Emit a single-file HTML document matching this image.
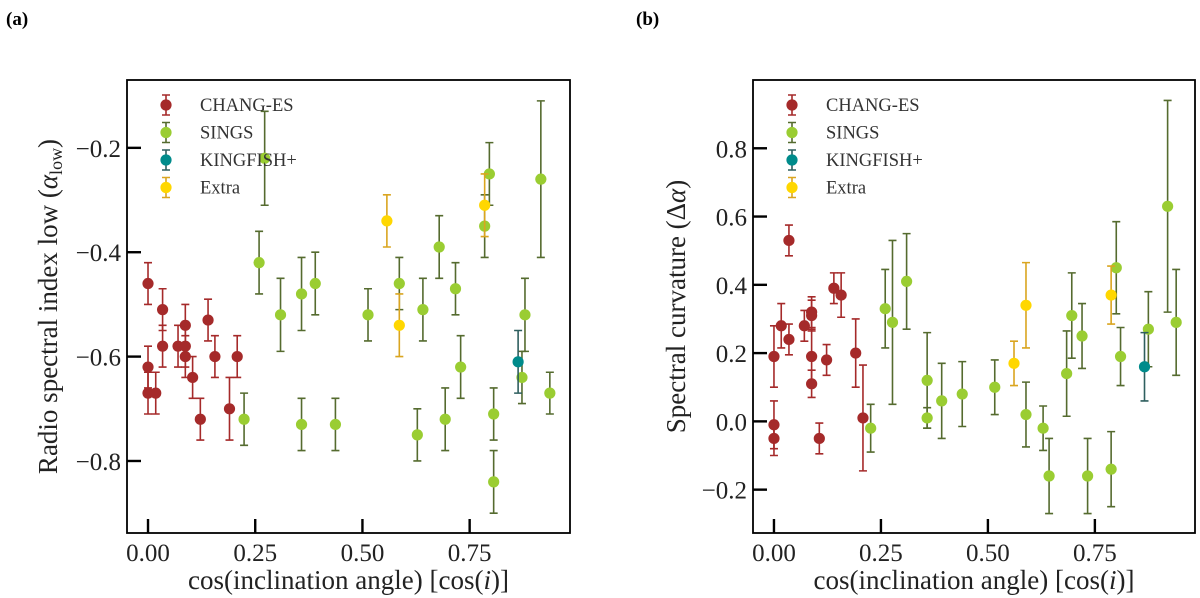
<!DOCTYPE html>
<html><head><meta charset="utf-8"><style>
html,body{margin:0;padding:0;background:#fff;}
svg{display:block;font-family:"Liberation Serif",serif;}
</style></head><body>
<svg id="fig" width="1200" height="598" viewBox="0 0 1200 598"></svg>
<script>
// Panel (a) data: cos(i), alpha_low, error
const changA_x=[0,0,0,0.018,0.034,0.034,0.07,0.087,0.087,0.087,0.104,0.122,0.14,0.156,0.19,0.208];
const changA_y=[-0.46,-0.62,-0.67,-0.67,-0.51,-0.58,-0.58,-0.54,-0.58,-0.60,-0.64,-0.72,-0.53,-0.60,-0.70,-0.60];
const changA_e=[0.04,0.04,0.04,0.04,0.04,0.04,0.04,0.04,0.04,0.04,0.04,0.04,0.04,0.04,0.06,0.04];
const singsA_x=[0.224,0.259,0.272,0.309,0.358,0.358,0.39,0.437,0.513,0.586,0.628,0.641,0.679,0.693,0.717,0.729,0.785,0.796,0.806,0.806,0.872,0.879,0.916,0.937];
const singsA_y=[-0.72,-0.42,-0.22,-0.52,-0.48,-0.73,-0.46,-0.73,-0.52,-0.46,-0.75,-0.51,-0.39,-0.72,-0.47,-0.62,-0.35,-0.25,-0.71,-0.84,-0.64,-0.52,-0.26,-0.67];
const singsA_e=[0.05,0.06,0.09,0.07,0.07,0.05,0.06,0.05,0.05,0.05,0.05,0.06,0.06,0.06,0.05,0.06,0.06,0.06,0.05,0.06,0.05,0.07,0.15,0.04];
const kingA_x=[0.863], kingA_y=[-0.61], kingA_e=[0.06];
const extraA_x=[0.557,0.586,0.785], extraA_y=[-0.34,-0.54,-0.31], extraA_e=[0.05,0.06,0.06];
// Panel (b) data: cos(i), delta alpha, error
const changB_x=[0,0,0,0.017,0.035,0.035,0.071,0.088,0.088,0.088,0.088,0.106,0.123,0.14,0.157,0.191,0.208];
const changB_y=[0.19,-0.01,-0.05,0.28,0.53,0.24,0.28,0.32,0.31,0.19,0.11,-0.05,0.18,0.39,0.37,0.20,0.01];
const changB_e=[0.09,0.07,0.05,0.065,0.045,0.045,0.045,0.045,0.045,0.08,0.04,0.045,0.045,0.045,0.065,0.10,0.155];
const singsB_x=[0.226,0.26,0.277,0.31,0.358,0.358,0.392,0.44,0.516,0.589,0.629,0.643,0.684,0.696,0.72,0.733,0.788,0.8,0.81,0.875,0.92,0.94];
const singsB_y=[-0.02,0.33,0.29,0.41,0.12,0.01,0.06,0.08,0.10,0.02,-0.02,-0.16,0.14,0.31,0.25,-0.16,-0.14,0.45,0.19,0.27,0.63,0.29];
const singsB_e=[0.07,0.115,0.24,0.14,0.14,0.03,0.11,0.095,0.08,0.095,0.065,0.11,0.125,0.125,0.095,0.11,0.11,0.135,0.085,0.11,0.31,0.155];
const kingB_x=[0.866], kingB_y=[0.16], kingB_e=[0.10];
const extraB_x=[0.561,0.589,0.788], extraB_y=[0.17,0.34,0.37], extraB_e=[0.065,0.125,0.085];
const xTicks=[0,0.25,0.5,0.75];
const xTickLabels=["0.00","0.25","0.50","0.75"];
const yTicksA=[-0.2,-0.4,-0.6,-0.8];
const yTickLabelsA=["\u22120.2","\u22120.4","\u22120.6","\u22120.8"];
const yTicksB=[0.8,0.6,0.4,0.2,0,-0.2];
const yTickLabelsB=["0.8","0.6","0.4","0.2","0.0","\u22120.2"];
const legendNames=["CHANG-ES","SINGS","KINGFISH+","Extra"];

const NS="http://www.w3.org/2000/svg";
const svg=document.getElementById('fig');
function mk(tag,attrs,parent){const e=document.createElementNS(NS,tag);for(const k in attrs)e.setAttribute(k,attrs[k]);(parent||svg).appendChild(e);return e;}
const styles=[{m:"#a52a2a",e:"#a52a2a"},{m:"#9acd32",e:"#556b2f"},{m:"#008b8b",e:"#2f5f5f"},{m:"#ffd700",e:"#daa520"}];

function panel(cfg){
  const g=mk('g',{});
  
  
  const L=cfg.left,R=cfg.right,T=80,B=533;
  const sx=v=>L+(v-(-0.049))/(0.984+0.049)*(R-L);
  const sy=v=>T+(cfg.ymax-v)/(cfg.ymax-cfg.ymin)*(B-T);
  cfg.series.forEach((s,si)=>{
    const sg=mk('g',{},g);
    
    
    s.x.forEach((xv,i)=>{
      const cx=sx(xv),cy=sy(s.y[i]),y1=sy(s.y[i]+s.e[i]),y2=sy(s.y[i]-s.e[i]);
      const eb=mk('path',{d:`M${cx},${y1}V${y2}M${cx-4},${y1}H${cx+4}M${cx-4},${y2}H${cx+4}`,stroke:styles[si].e,'stroke-width':1.6,fill:'none'},sg);
      
      
      const c=mk('circle',{cx:cx,cy:cy,r:5.6,fill:styles[si].m},sg);
      
      
    });
  });
  const fr=mk('rect',{x:L,y:T,width:R-L,height:B-T,fill:'none',stroke:'#000','stroke-width':1.8},g);
  
  
  xTicks.forEach((t,i)=>{
    const x=sx(t);
    const tk=mk('line',{x1:x,y1:B,x2:x,y2:B-14,stroke:'#000','stroke-width':2.4},g);
    
    
    const tl=mk('text',{x:x,y:561,'text-anchor':'middle','font-size':25,fill:'#222'},g);
    tl.textContent=xTickLabels[i];
    
    
  });
  cfg.yTicks.forEach((t,i)=>{
    const y=sy(t);
    const tk=mk('line',{x1:L,y1:y,x2:L+14,y2:y,stroke:'#000','stroke-width':2.4},g);
    
    
    const tl=mk('text',{x:L-6,y:y+9,'text-anchor':'end','font-size':25,fill:'#222'},g);
    tl.textContent=cfg.yLabels[i];
    
    
  });
  const xt=mk('text',{x:(L+R)/2,y:589,'text-anchor':'middle','font-size':27,fill:'#222'},g);
  xt.innerHTML='cos(inclination angle) [cos(<tspan font-style="italic">i</tspan>)]';
  
  
  const yt=mk('text',{x:0,y:0,'text-anchor':'middle','font-size':27,fill:'#222',transform:`translate(${cfg.ytx},${(T+B)/2}) rotate(-90)`},g);
  yt.innerHTML=cfg.ytitle;
  
  
  const lg=mk('g',{},g);
  
  
  legendNames.forEach((n,i)=>{
    const cx=L+39,cy=105+i*27.5;
    const eg=mk('g',{},lg);
    
    
    mk('path',{d:`M${cx},${cy-10}V${cy+10}M${cx-4},${cy-10}H${cx+4}M${cx-4},${cy+10}H${cx+4}`,stroke:styles[i].e,'stroke-width':1.6,fill:'none'},eg);
    mk('circle',{cx:cx,cy:cy,r:5.6,fill:styles[i].m},eg);
    const t=mk('text',{x:L+73,y:cy+6,'font-size':18.5,fill:'#333'},eg);
    t.textContent=n;
  });
  const pl=mk('text',{x:cfg.plx,y:25,'font-size':19,'font-weight':'bold',fill:'#000'},g);
  pl.textContent=cfg.plabel;
  
  
}
panel({name:'panel-a',left:127,right:570,ymax:-0.070,ymin:-0.938,yTicks:yTicksA,yLabels:yTickLabelsA,ytx:57,plx:6,plabel:'(a)',
  ytitle:'Radio spectral index low (<tspan font-style="italic">α</tspan><tspan font-size="18" dy="5">low</tspan><tspan dy="-5">)</tspan>',
  series:[{x:changA_x,y:changA_y,e:changA_e},{x:singsA_x,y:singsA_y,e:singsA_e},{x:kingA_x,y:kingA_y,e:kingA_e},{x:extraA_x,y:extraA_y,e:extraA_e}]});
panel({name:'panel-b',left:753,right:1195,ymax:1.0,ymin:-0.327,yTicks:yTicksB,yLabels:yTickLabelsB,ytx:685,plx:636,plabel:'(b)',
  ytitle:'Spectral curvature (Δ<tspan font-style="italic">α</tspan>)',
  series:[{x:changB_x,y:changB_y,e:changB_e},{x:singsB_x,y:singsB_y,e:singsB_e},{x:kingB_x,y:kingB_y,e:kingB_e},{x:extraB_x,y:extraB_y,e:extraB_e}]});
</script>
</body></html>
